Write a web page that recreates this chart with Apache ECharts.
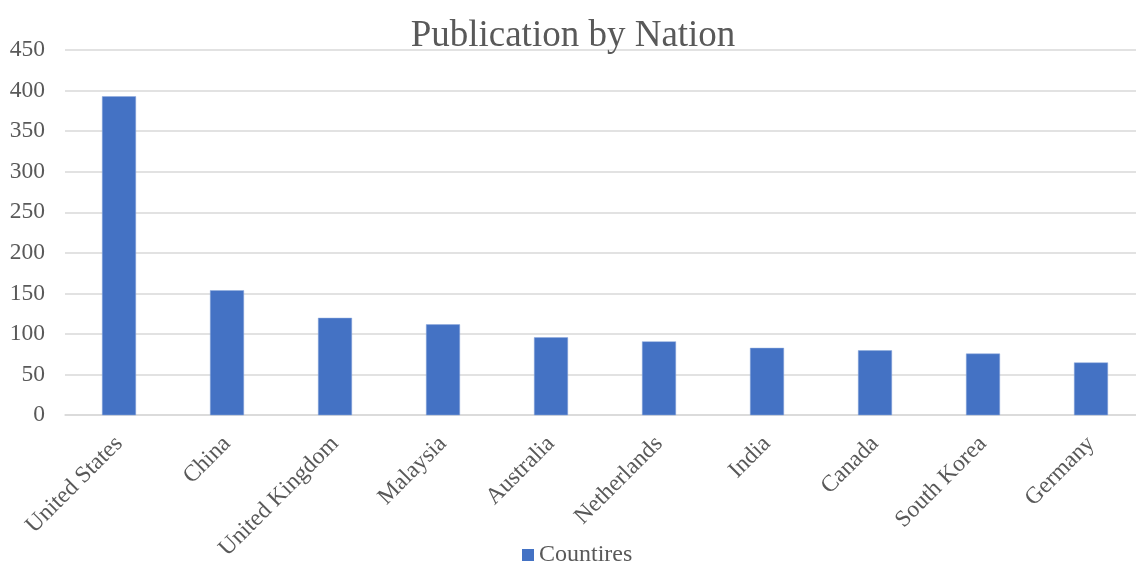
<!DOCTYPE html>
<html>
<head>
<meta charset="utf-8">
<script src="https://cdn.jsdelivr.net/npm/echarts@6/dist/echarts.min.js"></script>
<style>
html,body{margin:0;padding:0;background:#fff;overflow:hidden;}
#c{width:1146px;height:563px;}
</style>
</head>
<body>
<div id="c"></div>
<script>
const categories = ["United States","China","United Kingdom","Malaysia","Australia","Netherlands","India","Canada","South Korea","Germany"];
const countires = [393,154,120,112,96,91,83,80,76,65];
const seriesName = "Countires";
const titleText = "Publication by Nation";

const font = "'Liberation Serif', 'Times New Roman', serif";
const chart = echarts.init(document.getElementById('c'));
chart.setOption({
  backgroundColor: '#ffffff',
  animation: false,
  title: {
    text: titleText,
    left: 'center',
    top: 13,
    textStyle: {fontFamily: font, fontSize: 37, fontWeight: 'normal', color: '#595959'}
  },
  legend: {
    bottom: -9,
    left: 517,
    itemWidth: 12,
    itemHeight: 12,
    itemGap: 5,
    icon: 'rect',
    itemStyle: {borderWidth: 0},
    textStyle: {fontFamily: font, fontSize: 24, color: '#595959'},
    data: [seriesName]
  },
  grid: {left: 65, top: 50, right: 1, height: 366},
  xAxis: {
    type: 'category',
    data: categories,
    axisLine: {show: true, lineStyle: {color: '#d9d9d9', width: 1.5}},
    axisTick: {show: false},
    axisLabel: {rotate: 45, margin: 25, interval: 0, fontFamily: font, fontSize: 23.5, color: '#595959'}
  },
  yAxis: {
    type: 'value',
    min: 0, max: 450, interval: 50,
    axisLine: {show: false},
    axisTick: {show: false},
    splitLine: {lineStyle: {color: '#d9d9d9', width: 1.5}},
    axisLabel: {margin: 20, fontFamily: font, fontSize: 23.5, color: '#595959'}
  },
  series: [{
    name: seriesName,
    type: 'bar',
    data: countires,
    barWidth: 34,
    itemStyle: {color: '#4472C4', borderColor: '#8faadc', borderWidth: 0.5}
  }]
});
</script>
</body>
</html>
